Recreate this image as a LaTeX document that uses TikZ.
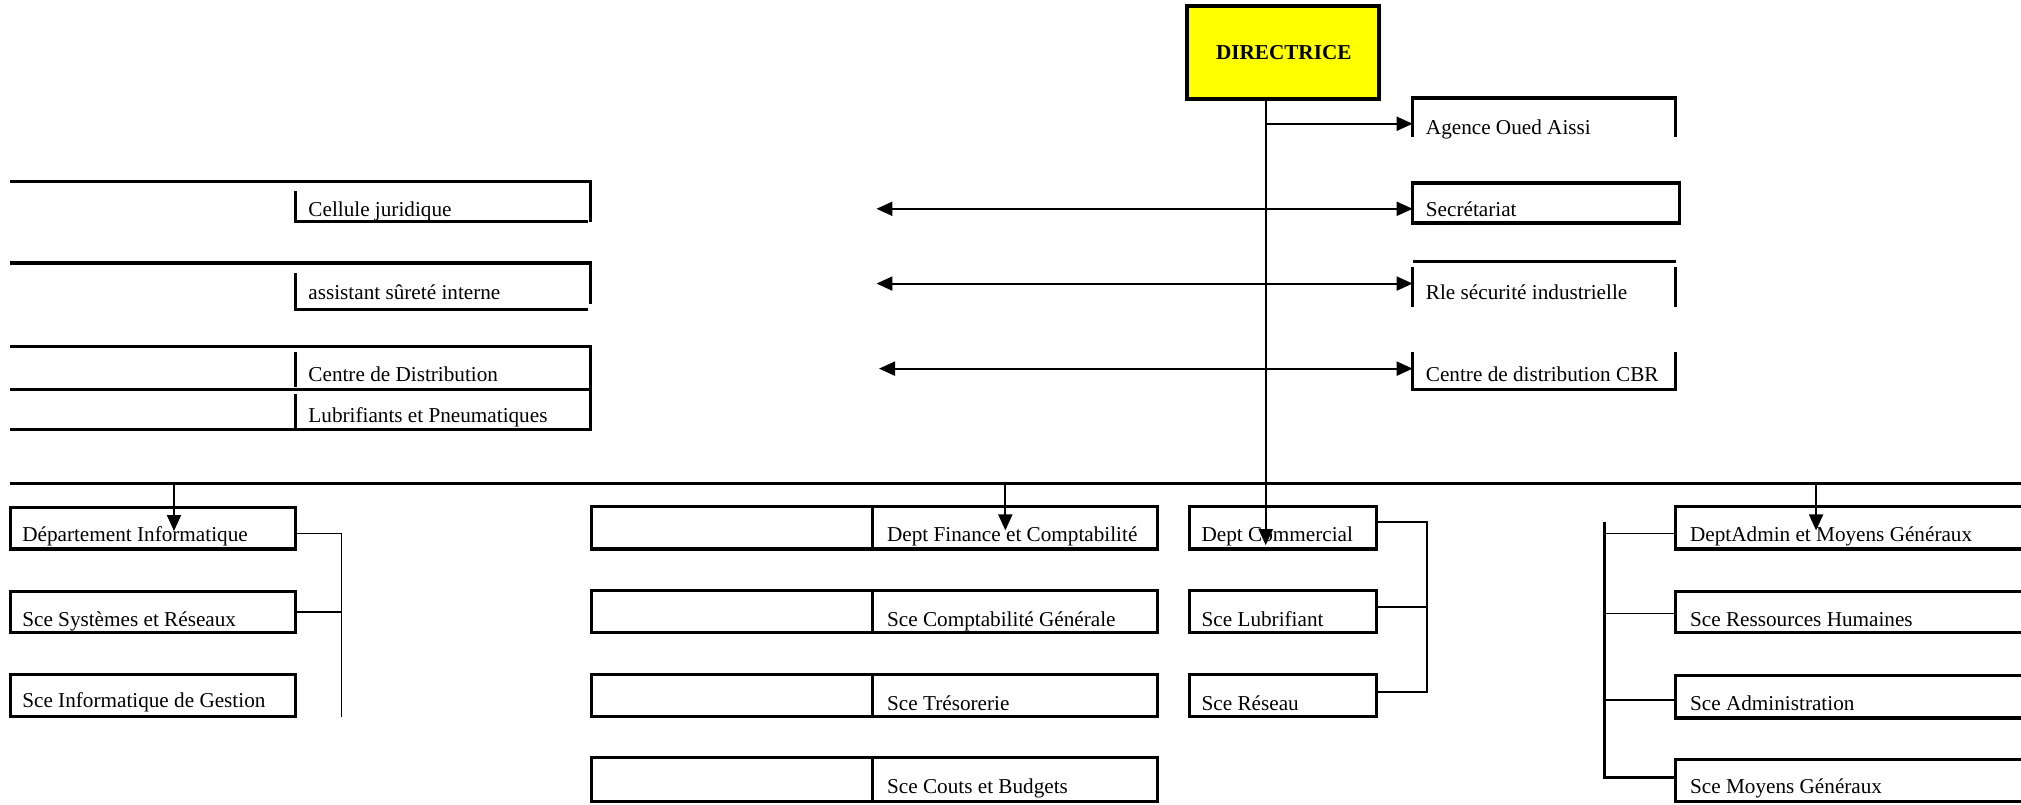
\documentclass[tikz,border=0pt]{standalone}
\usepackage{fontspec}
\setmainfont{Liberation Serif}
\usetikzlibrary{arrows.meta,fit}
\definecolor{dirfill}{RGB}{255,255,0}
\newcommand{\pu}{0.6445pt}
\begin{document}
\begin{tikzpicture}[x=0.6445pt,y=-0.6445pt,
  bord/.style={line width=1.6pt},
  conn/.style={line width=0.8pt},
  arr/.style={line width=1pt,-{Triangle[length=8pt,width=7pt]}},
  darr/.style={line width=1pt,{Triangle[length=8pt,width=7pt]}-{Triangle[length=8pt,width=7pt]}},
  zone/.style={inner sep=0pt,outer sep=0pt},
  lbl/.style={inner sep=0pt,anchor=base west,font=\fontsize{10.6pt}{12pt}\selectfont},
]
\useasboundingbox (0,0) rectangle (1568,624);

% Directrice
\node[zone, draw, fill=dirfill, line width=2pt, fit={(921,5) (1070,77)}] (dir) {};
\node[inner sep=0pt, anchor=base, font=\fontsize{10.6pt}{12pt}\selectfont\bfseries] (tdir) at (996,46) {DIRECTRICE};

% right column
\node[zone, fit={(1096,76) (1300,106)}] (agence) {};
\draw[bord] (agence.south west) -- (agence.north west) -- (agence.north east) -- (agence.south east);
\node[lbl] (tagence) at (1106,104) {Agence Oued Aissi};

\node[zone, draw, bord, fit={(1096,142) (1303,173)}] (sec) {};
\node[lbl] (tsec) at (1106,168) {Secrétariat};

\node[zone, fit={(1096,207) (1300,238)}] (rle) {};
\draw[bord] (rle.north west) -- (rle.south west) (rle.north east) -- (rle.south east);
\draw[bord] ([yshift=4*\pu]rle.north west) -- ([yshift=4*\pu]rle.north east);
\node[lbl] (trle) at (1106,232) {Rle sécurité industrielle};

\node[zone, fit={(1096,273) (1300,302)}] (cbr) {};
\draw[bord] (cbr.north west) -- (cbr.south west) -- (cbr.south east) -- (cbr.north east);
\node[lbl] (tcbr) at (1106,296) {Centre de distribution CBR};

% left column
\node[zone, fit={(8,141) (458,172)}] (cj) {};
\draw[bord] (cj.north west) -- (cj.north east) -- (cj.south east);
\draw[bord] ([xshift=221*\pu,yshift=-7*\pu]cj.north west) -- ([xshift=221*\pu]cj.south west) -- ([xshift=-2*\pu]cj.south east);
\node[lbl] (tcj) at (239,168) {Cellule juridique};

\node[zone, fit={(8,204) (458,240)}] (asi) {};
\draw[bord] (asi.north west) -- (asi.north east) -- ([yshift=4*\pu]asi.south east);
\draw[bord] ([xshift=221*\pu,yshift=-8*\pu]asi.north west) -- ([xshift=221*\pu]asi.south west) -- ([xshift=-2*\pu]asi.south east);
\node[lbl] (tasi) at (239,232) {assistant sûreté interne};

\node[zone, fit={(8,269) (458,333)}] (cd) {};
\draw[bord] (cd.north west) -- (cd.north east) -- (cd.south east) -- (cd.south west);
\draw[bord] ([yshift=-33*\pu]cd.north west) -- ([yshift=-33*\pu]cd.north east);
\draw[bord] ([xshift=221*\pu,yshift=-4*\pu]cd.north west) -- ([xshift=221*\pu,yshift=-31*\pu]cd.north west)
            ([xshift=221*\pu,yshift=-37*\pu]cd.north west) -- ([xshift=221*\pu,yshift=1*\pu]cd.south west);
\node[lbl] (tcd1) at (239,296) {Centre de Distribution};
\node[lbl] (tcd2) at (239,328) {Lubrifiants et Pneumatiques};

% bus
\coordinate (busl) at (8,375);
\coordinate (busr) at (1568,375);
\draw[line width=1.3pt] (busl) -- (busr);

% informatique
\node[zone, draw, bord, fit={(8,394) (229,426)}] (di) {};
\node[lbl] (tdi) at (17,420) {Département Informatique};
\node[zone, draw, bord, fit={(8,459) (229,491)}] (ssr) {};
\node[lbl] (tssr) at (17,486) {Sce Systèmes et Réseaux};
\node[zone, draw, bord, fit={(8,523) (229,556)}] (sig) {};
\node[lbl] (tsig) at (17,549) {Sce Informatique de Gestion};

% finance
\foreach \n/\ya/\yb in {fin1/393/426, fin2/458/491, fin3/523/556, fin4/588/622}{
  \node[zone, draw, bord, fit={(459,\ya) (898,\yb)}] (\n) {};
  \draw[bord] ([xshift=218*\pu]\n.north west) -- ([xshift=218*\pu]\n.south west);
}
\node[lbl] (tfin1) at (688,420) {Dept Finance et Comptabilité};
\node[lbl] (tfin2) at (688,486) {Sce Comptabilité Générale};
\node[lbl] (tfin3) at (688,551) {Sce Trésorerie};
\node[lbl] (tfin4) at (688,616) {Sce Couts et Budgets};

% commercial
\node[zone, draw, bord, fit={(923,393) (1068,426)}] (com1) {};
\node[zone, draw, bord, fit={(923,458) (1068,491)}] (com2) {};
\node[zone, draw, bord, fit={(923,523) (1068,556)}] (com3) {};
\node[lbl] (tcom1) at (932,420) {Dept Commercial};
\node[lbl] (tcom2) at (932,486) {Sce Lubrifiant};
\node[lbl] (tcom3) at (932,551) {Sce Réseau};

% admin
\foreach \n/\ya/\yb in {adm1/393/426, adm2/459/491, adm3/524/557, adm4/589/622}{
  \node[zone, fit={(1300,\ya) (1568,\yb)}] (\n) {};
  \draw[bord] (\n.north east) -- (\n.north west) -- (\n.south west) -- (\n.south east);
}
\node[lbl] (tadm1) at (1311,420) {DeptAdmin et Moyens Généraux};
\node[lbl] (tadm2) at (1311,486) {Sce Ressources Humaines};
\node[lbl] (tadm3) at (1311,551) {Sce Administration};
\node[lbl] (tadm4) at (1311,616) {Sce Moyens Généraux};

% main vertical and arrows
\coordinate (v0) at (982,77);
\coordinate (v1) at (982,423);
\draw[arr] (v0) -- (v1);
\coordinate (va) at (982,96);
\draw[arr] (va) -- (va -| agence.west);

\coordinate (l1) at (680,162);
\coordinate (l2) at (680,220);
\coordinate (l3) at (682,286);
\draw[darr] (l1) -- (l1 -| sec.west);
\draw[darr] (l2) -- (l2 -| rle.west);
\draw[darr] (l3) -- (l3 -| cbr.west);

\coordinate (b1) at (135,375);
\coordinate (b2) at (780,375);
\coordinate (b3) at (1409,375);
\draw[arr] (b1) -- ([yshift=-2*\pu]b1 |- di.center);
\draw[arr] (b2) -- ([yshift=-2*\pu]b2 |- fin1.center);
\draw[arr] (b3) -- ([yshift=-2*\pu]b3 |- adm1.center);

% informatique connector
\coordinate (k1) at (265,414);
\coordinate (k2) at (265,556);
\draw[conn] (k1 -| di.east) -- (k1) -- (k2);
\draw[conn] (ssr.east) -- (ssr.east -| k1);

% commercial bracket
\coordinate (c1) at (1107,405);
\coordinate (c2) at (1107,471);
\coordinate (c3) at (1107,537);
\draw[line width=1.1pt] (c1 -| com1.east) -- (c1) -- (c3) -- (c3 -| com3.east);
\draw[line width=1.1pt] (c2 -| com2.east) -- (c2);

% admin connector
\coordinate (a0) at (1245,405);
\coordinate (a1) at (1245,414);
\coordinate (a2) at (1245,476);
\coordinate (a3) at (1245,543);
\coordinate (a4) at (1245,603);
\draw[bord] (a0) -- (a4) -- (a4 -| adm4.west);
\draw[conn] (a1) -- (a1 -| adm1.west);
\draw[conn] (a2) -- (a2 -| adm2.west);
\draw[conn] (a3) -- (a3 -| adm3.west);
\end{tikzpicture}
\end{document}
